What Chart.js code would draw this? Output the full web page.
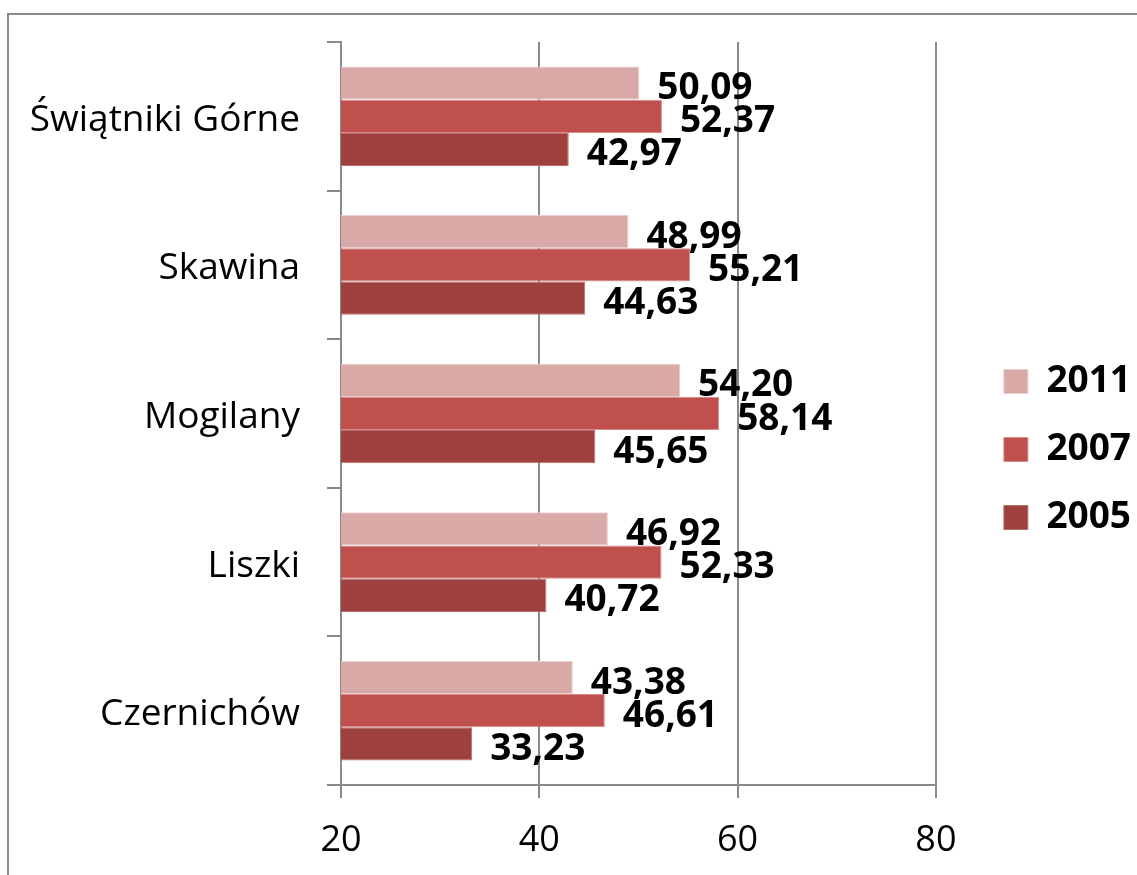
<!DOCTYPE html>
<html>
<head>
<meta charset="utf-8">
<script src="https://cdn.jsdelivr.net/npm/chart.js@4/dist/chart.umd.min.js"></script>
<style>
  html, body { margin: 0; padding: 0; background: #fff; }
  #chart { display: block; }
</style>
</head>
<body>
<canvas id="chart" width="1137" height="875"></canvas>
<script>
const categories = ['Świątniki Górne', 'Skawina', 'Mogilany', 'Liszki', 'Czernichów'];
const seriesNames = ['2011', '2007', '2005'];
const values2011 = [50.09, 48.99, 54.20, 46.92, 43.38];
const values2007 = [52.37, 55.21, 58.14, 52.33, 46.61];
const values2005 = [42.97, 44.63, 45.65, 40.72, 33.23];
const xTicks = [20, 40, 60, 80];

const fills = ['#D9A9A8', '#C0504D', '#9E403D'];
const edges = ['#EBCFCE', '#D98C8A', '#B86F6C'];
const gridColor = '#8A8A8A';
const family = "'Open Sans', 'DejaVu Sans', sans-serif";

// outer frame, like the original office chart box
const framePlugin = {
    id: 'frame',
    beforeDraw(chart) {
        const ctx = chart.ctx;
        ctx.save();
        ctx.strokeStyle = gridColor;
        ctx.lineWidth = 2;
        ctx.strokeRect(8, 14, 1300, 1000);
        ctx.restore();
    }
};

// push the legend to the right a bit without changing the plot width
const legendShift = {
    id: 'legendShift',
    afterLayout(chart) {
        const lg = chart.legend;
        lg.left += 37;
        lg.right += 37;
        lg.top -= 9;
        lg.bottom -= 9;
    }
};

// value labels next to each bar
const valueLabels = {
    id: 'valueLabels',
    afterDatasetsDraw(chart) {
        const ctx = chart.ctx;
        ctx.save();
        ctx.font = 'bold 37px ' + family;
        ctx.fillStyle = '#000';
        ctx.textAlign = 'left';
        ctx.textBaseline = 'alphabetic';
        chart.data.datasets.forEach((ds, i) => {
            const meta = chart.getDatasetMeta(i);
            meta.data.forEach((bar, j) => {
                const txt = ds.data[j].toFixed(2).replace('.', ',');
                ctx.fillText(txt, bar.x + 18, bar.y + 16);
            });
        });
        ctx.restore();
    }
};

const data = {
    labels: categories,
    datasets: [values2011, values2007, values2005].map((vals, i) => ({
        label: seriesNames[i],
        data: vals,
        backgroundColor: fills[i],
        borderColor: edges[i],
        borderWidth: 1,
        categoryPercentage: 0.67,
        barPercentage: 1.0
    }))
};

new Chart(document.getElementById('chart'), {
    type: 'bar',
    data: data,
    options: {
        indexAxis: 'y',
        responsive: false,
        animation: false,
        layout: {
            padding: { left: 0, top: 42, right: 33, bottom: 0 }
        },
        scales: {
            x: {
                min: 20,
                max: 80,
                afterBuildTicks(axis) {
                    axis.ticks = xTicks.map(v => ({ value: v }));
                },
                afterFit(axis) {
                    axis.height = 90;
                },
                grid: {
                    color: gridColor,
                    lineWidth: 2,
                    tickLength: 13,
                    drawTicks: true
                },
                border: { color: gridColor, width: 2 },
                ticks: {
                    color: '#000',
                    padding: 21,
                    font: { family: family, size: 36 }
                }
            },
            y: {
                afterFit(axis) {
                    axis.width = 341;
                    axis.paddingTop = 0;
                    axis.paddingBottom = 0;
                },
                grid: {
                    color: gridColor,
                    lineWidth: 2,
                    drawOnChartArea: false,
                    tickLength: 14,
                    offset: true
                },
                border: { color: gridColor, width: 2 },
                ticks: {
                    color: '#000',
                    padding: 27,
                    labelOffset: 4,
                    font: { family: family, size: 37 }
                }
            }
        },
        plugins: {
            legend: {
                display: true,
                position: 'right',
                labels: {
                    boxWidth: 24,
                    boxHeight: 24,
                    padding: 31,
                    color: '#000',
                    font: { family: family, size: 37, weight: 'bold' }
                }
            },
            tooltip: { enabled: false }
        }
    },
    plugins: [framePlugin, legendShift, valueLabels]
});
</script>
</body>
</html>
